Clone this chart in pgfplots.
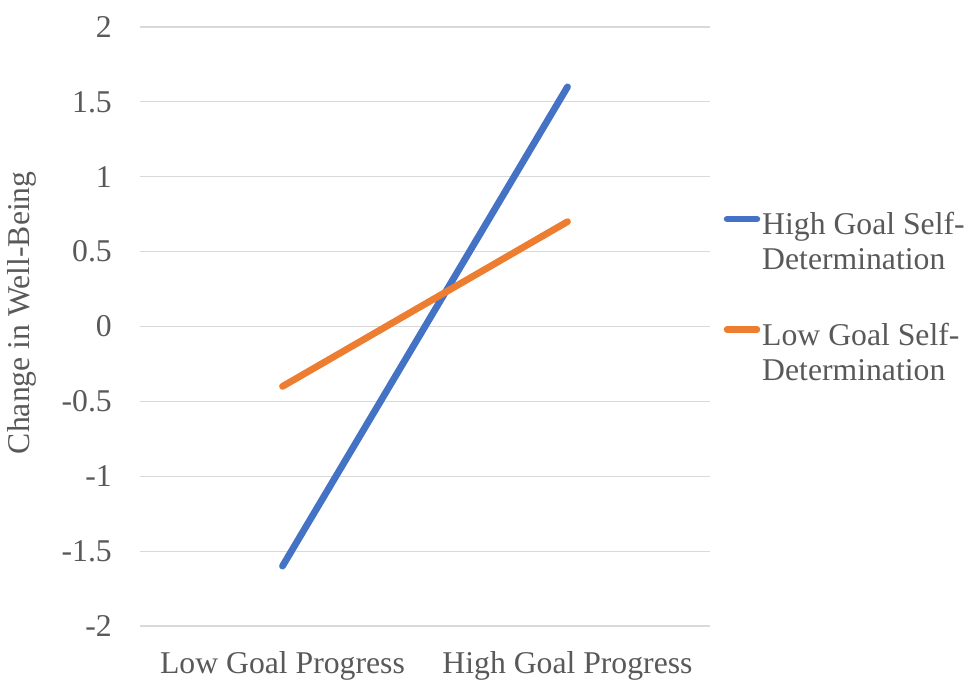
\documentclass[border=0pt]{standalone}
\usepackage{fontspec}
\setmainfont{Liberation Serif}
\usepackage{pgfplots}
\pgfplotsset{compat=1.18}
\definecolor{tx}{HTML}{595959}
\definecolor{gr}{HTML}{D9D9D9}
\definecolor{bl}{HTML}{4472C4}
\definecolor{or}{HTML}{ED7D31}
\begin{document}
\fontsize{31.7}{35}\selectfont
\begin{tikzpicture}
\path[use as bounding box] (-140pt,-73pt) rectangle (834pt,626pt);
\begin{axis}[
  at={(0pt,0pt)}, anchor=south west,
  scale only axis, width=570pt, height=599pt,
  xmin=-0.5, xmax=1.5, ymin=-2, ymax=2,
  xtick={0,1}, xticklabels={Low Goal Progress, High Goal Progress},
  ytick={-2,-1.5,-1,-0.5,0,0.5,1,1.5,2},
  yticklabels={-2,-1.5,-1,-0.5,0,0.5,1,1.5,2},
  ymajorgrids, grid style={gr, line width=1.2pt},
  axis line style={draw=none}, major tick length=0pt,
  every tick label/.append style={text=tx, inner sep=0pt},
  yticklabel style={anchor=east, xshift=-28pt},
  xticklabel style={anchor=north, yshift=-25pt},
  ylabel={Change in Well-Being},
  ylabel style={at={(axis description cs:-0.207,0.523)}, anchor=center, text=tx},
  legend cell align=left,
  legend style={at={(axis description cs:1.0228,0.697)}, anchor=north west,
    draw=none, fill=none, inner sep=0pt, outer sep=0pt,
    row sep=42pt, column sep=0pt,
    cells={align=left, inner sep=0pt, outer sep=0pt, text=tx}},
  legend image code/.code={
    \path[draw=none, fill=none] (0pt,-23.5pt) (37pt,23.5pt);
    \draw[#1, line width=6.5pt, line cap=round] (4pt,23.5pt) -- (34pt,23.5pt);
  },
]
\addplot[bl, line width=6.8pt, line cap=round] coordinates {(0,-1.6) (1,1.6)};
\addlegendentry{\strut High Goal Self-\\\strut Determination}
\addplot[or, line width=6.8pt, line cap=round] coordinates {(0,-0.4) (1,0.7)};
\addlegendentry{\strut Low Goal Self-\\\strut Determination}
\end{axis}
\end{tikzpicture}
\end{document}
